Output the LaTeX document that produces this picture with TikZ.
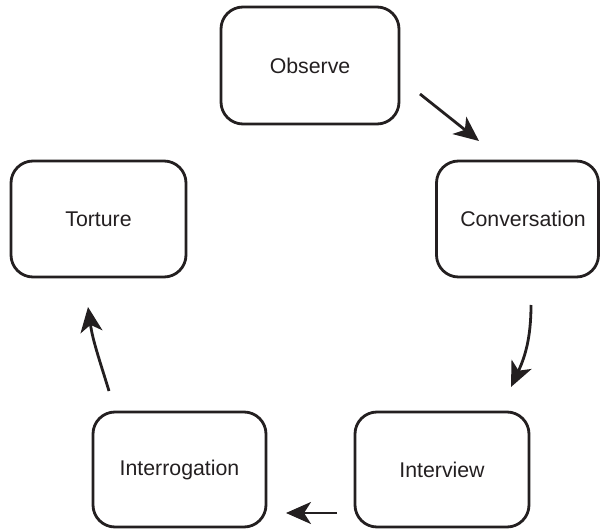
\documentclass[tikz,border=0pt]{standalone}
\usepackage{fontspec}
\setmainfont{Liberation Sans}
\usetikzlibrary{arrows.meta}
\definecolor{ink}{HTML}{231F20}
\begin{document}
\begin{tikzpicture}[x=1pt,y=-1pt,
  stagebox/.style={draw=ink, line width=2.8pt, rounded corners=22pt, minimum height=116pt, inner sep=0pt, text=ink, font=\fontsize{21.3pt}{25pt}\selectfont},
  flow/.style={draw=ink, line width=2.8pt, -{Stealth[length=25pt, width=22pt, inset=7pt]}},
  lbl/.style={text=ink, inner sep=0pt, font=\fontsize{21.3pt}{25pt}\selectfont}]
\useasboundingbox (0,0) rectangle (600,529);
\node[stagebox, minimum width=178pt, minimum height=117pt] (observe) at (310,65.5) {Observe};
\node[stagebox, minimum width=162pt] (conv) at (517.5,219) {};
\node[lbl] (convtext) at (523,219) {Conversation};
\node[stagebox, minimum width=175pt] (torture) at (98.5,219) {Torture};
\node[stagebox, minimum width=173pt, minimum height=115pt] (interrog) at (179.5,469.5) {Interrogation};
\node[stagebox, minimum width=174pt, minimum height=115pt] (interview) at (442,469.5) {Interview};
\coordinate (a1s) at (420,94);
\coordinate (a1e) at (479,141);
\coordinate (a2s) at (531,305);
\coordinate (a2e) at (511,387);
\coordinate (a3s) at (337,513);
\coordinate (a3e) at (286,513);
\coordinate (a4s) at (109,391);
\coordinate (a4e) at (88,307);
\draw[flow] (a1s) -- (a1e);
\draw[flow] (a2s) to[out=-90, in=65] (a2e);
\draw[flow] (a3s) -- (a3e);
\draw[flow] (a4s) to[out=107, in=-82] (a4e);
\end{tikzpicture}
\end{document}
